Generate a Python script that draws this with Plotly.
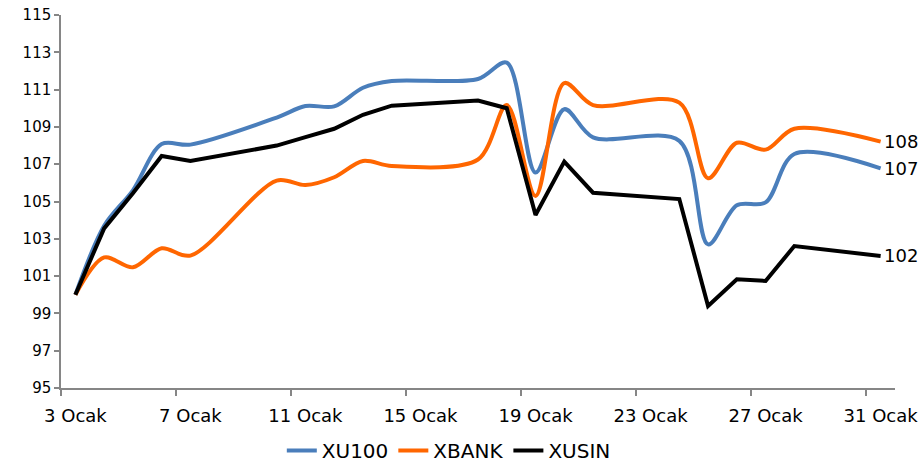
import plotly.graph_objects as go

days = [3, 4, 5, 6, 7, 10, 11, 12, 13, 14, 17, 18, 19, 20, 21, 24, 25, 26, 27, 28, 31]
xu100 = [100, 103.7, 105.6, 108.08, 108.05, 109.5, 110.12, 110.1, 111.1, 111.46, 111.57, 112.45,
         106.55, 109.95, 108.44, 108.25, 102.7, 104.8, 104.95, 107.55, 106.78]
xbank = [100, 102.0, 101.47, 102.49, 102.1, 106.12, 105.88, 106.3, 107.17, 106.9, 107.25, 110.17,
         105.3, 111.35, 110.17, 110.3, 106.25, 108.15, 107.78, 108.9, 108.21]
xusin = [100, 103.56, 105.44, 107.44, 107.17, 108.0, 108.45, 108.9, 109.65, 110.14, 110.41, 110.0,
         104.28, 107.14, 105.47, 105.13, 99.4, 100.83, 100.74, 102.61, 102.08]

tick_days = [3, 7, 11, 15, 19, 23, 27, 31]
tick_text = [f"{d} Ocak" for d in tick_days]

series = [
    ("XU100", xu100, "#4A7EBB", "spline"),
    ("XBANK", xbank, "#FF6600", "spline"),
    ("XUSIN", xusin, "#000000", "linear"),
]

fig = go.Figure()
for name, vals, color, shape in series:
    fig.add_trace(go.Scatter(
        x=days, y=vals, name=name, mode="lines",
        line=dict(color=color, width=4, shape=shape, smoothing=0.9),
    ))
    fig.add_annotation(
        x=days[-1], y=vals[-1], text=str(int(round(vals[-1]))),
        showarrow=False, xanchor="left", yanchor="middle", xshift=1,
        font=dict(family="DejaVu Sans", size=18, color="#000000"),
    )

fig.update_layout(
    width=920, height=468,
    margin=dict(l=61, r=25, t=15, b=80, autoexpand=False),
    paper_bgcolor="white", plot_bgcolor="white",
    font=dict(family="DejaVu Sans", color="#000000"),
    showlegend=True,
    legend=dict(orientation="h", x=0.465, xanchor="center", y=-0.115, yanchor="top",
                font=dict(size=20), tracegroupgap=0, bgcolor="rgba(0,0,0,0)"),
    xaxis=dict(
        range=[2.5, 31.5], tickmode="array", tickvals=tick_days, ticktext=tick_text,
        ticks="", showgrid=False, zeroline=False, automargin=False,
        showline=True, linecolor="#868686", linewidth=1.5,
        tickfont=dict(size=18), ticklabelstandoff=11,
        minor=dict(tickmode="linear", tick0=2.5, dtick=4, ticks="outside", ticklen=6,
                   tickcolor="#868686", tickwidth=1.5, showgrid=False),
    ),
    yaxis=dict(
        range=[95, 115], tickmode="linear", tick0=95, dtick=2,
        ticks="outside", ticklen=5, tickcolor="#868686", tickwidth=1.5,
        showgrid=False, zeroline=False, automargin=False,
        showline=True, linecolor="#868686", linewidth=1.5,
        tickfont=dict(size=15),
    ),
)

fig.write_html("out.html", config={"displayModeBar": False},
               post_script="document.body.style.margin='0';document.body.style.overflow='hidden';")
